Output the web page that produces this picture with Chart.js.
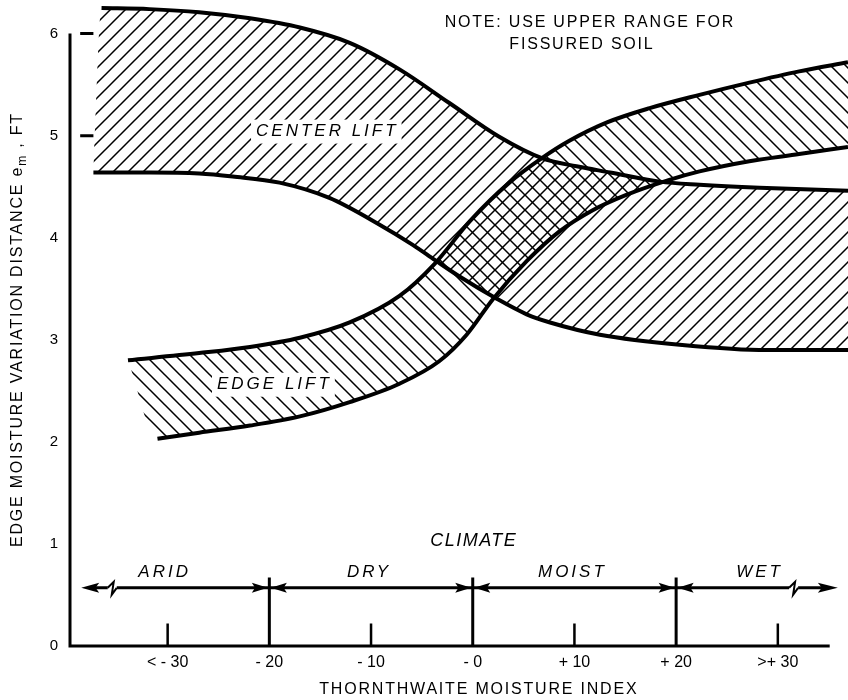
<!DOCTYPE html>
<html lang="en">
<head>
<meta charset="UTF-8">
<title>Edge Moisture Variation Distance</title>
<script src="https://cdn.jsdelivr.net/npm/chart.js@4.4.1/dist/chart.umd.min.js"></script>
<style>
  html, body { margin: 0; padding: 0; background: #fff; }
</style>
</head>
<body>
<canvas id="chart" width="848" height="700"></canvas>
<script>
// tick values / labels
const xTicks = [-30, -20, -10, 0, 10, 20, 30];
const xTickLabels = ['< - 30', '- 20', '- 10', '- 0', '+ 10', '+ 20', '>+ 30'];
const yTicks = [0, 1, 2, 3, 4, 5, 6];

// center lift band
const centerUpperX = [-36.5, -31.8, -26.9, -21.9, -17.0, -12.1, -7.2, -2.3, 2.6, 6.8, 10.2, 13.5, 18.4, 22.3, 28.2, 36.9];
const centerUpperY = [6.25, 6.24, 6.21, 6.15, 6.06, 5.91, 5.65, 5.32, 4.99, 4.78, 4.70, 4.64, 4.55, 4.52, 4.49, 4.46];
const centerLowerX = [-37.3, -31.8, -26.9, -23.6, -19.0, -14.1, -9.2, -5.9, -3.7, -1.3, 2.4, 5.3, 7.6, 12.5, 20.6, 28.9, 36.9];
const centerLowerY = [4.64, 4.64, 4.63, 4.60, 4.54, 4.39, 4.13, 3.93, 3.78, 3.62, 3.40, 3.25, 3.17, 3.05, 2.95, 2.90, 2.90];

// edge lift band
const edgeUpperX = [-33.9, -26.9, -21.9, -17.0, -12.1, -7.2, -3.7, -0.3, 3.6, 6.8, 9.5, 13.2, 17.4, 22.3, 27.2, 32.1, 36.9];
const edgeUpperY = [2.80, 2.87, 2.93, 3.02, 3.17, 3.43, 3.75, 4.16, 4.54, 4.78, 4.95, 5.13, 5.27, 5.40, 5.52, 5.63, 5.72];
const edgeLowerX = [-31.0, -26.9, -21.9, -17.0, -12.1, -7.2, -3.3, -0.6, 2.0, 5.3, 8.5, 11.8, 15.1, 19.1, 22.3, 27.2, 32.1, 36.9];
const edgeLowerY = [2.03, 2.09, 2.16, 2.25, 2.39, 2.57, 2.79, 3.05, 3.40, 3.77, 4.06, 4.27, 4.42, 4.56, 4.65, 4.75, 4.82, 4.89];

// climate zones
const climateNames = ['ARID', 'DRY', 'MOIST', 'WET'];
const climateBounds = [-20, 0, 20];
const minorTicks = [-30, -10, 10, 30];

const FONT = "'Liberation Sans', Arial, Helvetica, sans-serif";
Chart.defaults.font.family = FONT;
Chart.defaults.color = '#000';

const canvas = document.getElementById('chart');
const mainCtx = canvas.getContext('2d');

function hatch(dir) {
  const s = 15;
  const c = document.createElement('canvas');
  c.width = s; c.height = s;
  const g = c.getContext('2d');
  g.strokeStyle = '#000';
  g.lineWidth = 1.5;
  g.beginPath();
  if (dir > 0) {
    g.moveTo(-2, s + 2); g.lineTo(s + 2, -2);
    g.moveTo(-2, 2); g.lineTo(2, -2);
    g.moveTo(s - 2, s + 2); g.lineTo(s + 2, s - 2);
  } else {
    g.moveTo(-2, -2); g.lineTo(s + 2, s + 2);
    g.moveTo(-2, s - 2); g.lineTo(2, s + 2);
    g.moveTo(s - 2, -2); g.lineTo(s + 2, 2);
  }
  g.stroke();
  return mainCtx.createPattern(c, 'repeat');
}

const pts = (xs, ys) => xs.map((x, i) => ({ x: x, y: ys[i] }));

const cu = pts(centerUpperX, centerUpperY);
const cl = pts(centerLowerX, centerLowerY);
const eu = pts(edgeUpperX, edgeUpperY);
const el = pts(edgeLowerX, edgeLowerY);

const stroke = {
  borderColor: '#000', borderWidth: 4, pointRadius: 0,
  cubicInterpolationMode: 'monotone', fill: false, borderCapStyle: 'butt'
};
const hidden = {
  borderColor: 'rgba(0,0,0,0)', borderWidth: 1, pointRadius: 0,
  cubicInterpolationMode: 'monotone'
};

// annotations: axes lines, climate scale, texts
const extras = {
  id: 'extras',
  afterDatasetsDraw(chart) {
    const { ctx, scales: { x, y } } = chart;
    const X = v => x.getPixelForValue(v);
    const Y = v => y.getPixelForValue(v);
    ctx.save();
    ctx.strokeStyle = '#000';
    ctx.fillStyle = '#000';

    // axes
    ctx.lineWidth = 3;
    ctx.beginPath();
    ctx.moveTo(X(-39.7) + 1, Y(6));
    ctx.lineTo(X(-39.7) + 1, Y(0));
    ctx.lineTo(X(35.1), Y(0));
    ctx.stroke();

    // short dashes at 5 and 6
    ctx.beginPath();
    [5, 6].forEach(v => { ctx.moveTo(X(-38.6), Y(v)); ctx.lineTo(X(-37.3), Y(v)); });
    ctx.stroke();

    // index ticks
    ctx.lineWidth = 2.5;
    ctx.beginPath();
    minorTicks.forEach(v => { ctx.moveTo(X(v), Y(0)); ctx.lineTo(X(v), Y(0.22)); });
    ctx.stroke();
    ctx.lineWidth = 3;
    ctx.beginPath();
    climateBounds.forEach(v => { ctx.moveTo(X(v), Y(0)); ctx.lineTo(X(v), Y(0.67)); });
    ctx.stroke();

    // climate line with breaks
    const cy = Y(0.57);
    const bl = X(-35.4), br = X(31.6);
    ctx.lineWidth = 3;
    ctx.beginPath();
    ctx.moveTo(X(-38.5) + 10, cy); ctx.lineTo(bl - 5, cy);
    ctx.moveTo(bl + 4, cy); ctx.lineTo(br - 5, cy);
    ctx.moveTo(br + 4, cy); ctx.lineTo(X(35.9) - 10, cy);
    ctx.stroke();
    ctx.lineWidth = 2;
    [bl, br].forEach(b => {
      ctx.beginPath();
      ctx.moveTo(b - 5, cy);
      ctx.lineTo(b + 1, cy - 6);
      ctx.lineTo(b - 1, cy + 7);
      ctx.lineTo(b + 4, cy);
      ctx.stroke();
    });
    const arrow = (tip, dir, len) => {
      ctx.beginPath();
      ctx.moveTo(tip, cy);
      ctx.lineTo(tip - dir * len, cy - 5);
      ctx.lineTo(tip - dir * len * 0.8, cy);
      ctx.lineTo(tip - dir * len, cy + 5);
      ctx.closePath();
      ctx.fill();
    };
    arrow(X(-38.5), -1, 18);
    arrow(X(35.9), 1, 20);
    climateBounds.forEach(v => { arrow(X(v) - 1.5, 1, 16); arrow(X(v) + 1.5, -1, 16); });

    const text = (s, px, py, font, spacing, align, knockout) => {
      ctx.font = font;
      ctx.letterSpacing = spacing + 'px';
      ctx.textAlign = align;
      ctx.textBaseline = 'middle';
      if (knockout) {
        const w = ctx.measureText(s).width;
        ctx.fillStyle = '#fff';
        ctx.fillRect(px - w / 2 - 5, py - 12, w + 8, 24);
      }
      ctx.fillStyle = '#000';
      ctx.fillText(s, px, py);
    };

    const ital = 'italic 17px ' + FONT;
    [-30.3, -10.2, 9.8, 28.2].forEach((v, i) => text(climateNames[i], X(v), Y(0.72), ital, 3, 'center'));
    text('CLIMATE', X(0.1), Y(1.03), 'italic 18px ' + FONT, 1.5, 'center');
    text('CENTER LIFT', X(-14.3), Y(5.04), ital, 3, 'center', true);
    text('EDGE LIFT', X(-19.5), Y(2.56), ital, 3, 'center', true);
    text('NOTE: USE UPPER RANGE FOR', X(-2.76), Y(6.11), '16px ' + FONT, 1.8, 'left');
    text('FISSURED SOIL', X(3.6), Y(5.89), '16px ' + FONT, 1.8, 'left');
    text('THORNTHWAITE MOISTURE INDEX', X(0.6), chart.height - 10, '16px ' + FONT, 1.8, 'center');

    // y title with subscript
    ctx.translate(18, Y(3.1));
    ctx.rotate(-Math.PI / 2);
    ctx.textAlign = 'left';
    ctx.textBaseline = 'middle';
    ctx.letterSpacing = '1.8px';
    const big = '16px ' + FONT, small = '12px ' + FONT;
    const p1 = 'EDGE MOISTURE VARIATION DISTANCE e', p2 = 'm', p3 = ' , FT';
    ctx.font = big; const w1 = ctx.measureText(p1).width; const w3 = ctx.measureText(p3).width;
    ctx.font = small; const w2 = ctx.measureText(p2).width;
    let sx = -(w1 + w2 + w3) / 2;
    ctx.font = big; ctx.fillText(p1, sx, 0); sx += w1;
    ctx.font = small; ctx.fillText(p2, sx, 5); sx += w2;
    ctx.font = big; ctx.fillText(p3, sx, 0);

    ctx.restore();
  }
};

// keep the plot area fixed: no extra label padding from the scales
const noPad = s => { s.paddingTop = 0; s.paddingBottom = 0; s.paddingLeft = 0; s.paddingRight = 0; };

new Chart(mainCtx, {
  type: 'line',
  data: {
    datasets: [
      // center lift hatch (upper edge joined to the lower start)
      Object.assign({ data: [cl[0]].concat(cu), fill: 2, backgroundColor: hatch(1) }, hidden),
      Object.assign({ label: 'Center lift upper', data: cu }, stroke),
      Object.assign({ label: 'Center lift lower', data: cl }, stroke),
      // edge lift hatch (lower edge joined to the upper start)
      Object.assign({ data: [eu[0]].concat(el), fill: 4, backgroundColor: hatch(-1) }, hidden),
      Object.assign({ label: 'Edge lift upper', data: eu }, stroke),
      Object.assign({ label: 'Edge lift lower', data: el }, stroke)
    ]
  },
  options: {
    responsive: false,
    animation: false,
    layout: { padding: { top: 3, left: 0, right: 0, bottom: 0 } },
    plugins: {
      legend: { display: false },
      tooltip: { enabled: false },
      filler: { drawTime: 'beforeDatasetsDraw' }
    },
    scales: {
      x: {
        type: 'linear',
        min: -39.7,
        max: 36.9,
        grid: { display: false, drawTicks: false },
        border: { display: false },
        afterBuildTicks: s => { s.ticks = xTicks.map(v => ({ value: v })); },
        afterFit: s => { s.height = 54; noPad(s); },
        ticks: {
          autoSkip: false, maxRotation: 0, padding: 7,
          font: { size: 16 },
          callback: (v, i) => xTickLabels[i]
        }
      },
      y: {
        type: 'linear',
        min: 0,
        max: 6.3,
        grid: { display: false, drawTicks: false },
        border: { display: false },
        afterBuildTicks: s => { s.ticks = yTicks.map(v => ({ value: v })); },
        afterFit: s => { s.width = 69; noPad(s); },
        ticks: { padding: 11, font: { size: 15 } }
      }
    }
  },
  plugins: [extras]
});
</script>
</body>
</html>
